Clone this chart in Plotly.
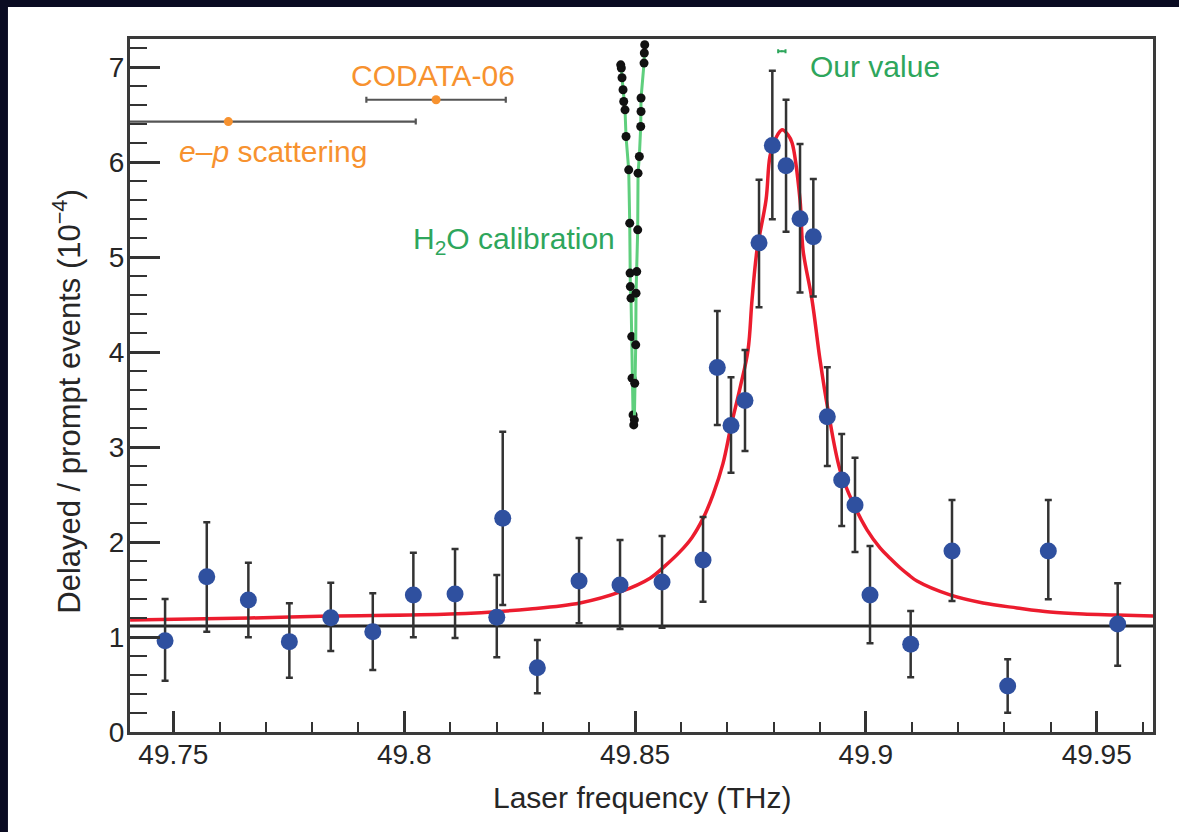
import plotly.graph_objects as go

# ---------------- data ----------------
freq = [49.74820, 49.75723, 49.76624, 49.77512, 49.78409, 49.79319, 49.80198, 49.81101,
        49.82005, 49.82134, 49.82884, 49.83787, 49.84675, 49.85585, 49.86473, 49.86782,
        49.87079, 49.87382, 49.87686, 49.87974, 49.88271, 49.88574, 49.88862, 49.89165,
        49.89477, 49.89765, 49.90090, 49.90971, 49.91866, 49.93072, 49.93952, 49.95455]
ratio = [0.962, 1.636, 1.391, 0.952, 1.204, 1.057, 1.444, 1.454,
         1.209, 2.252, 0.678, 1.591, 1.549, 1.581, 1.812, 3.839,
         3.228, 3.491, 5.153, 6.178, 5.964, 5.406, 5.216, 3.322,
         2.655, 2.392, 1.444, 0.924, 1.907, 0.485, 1.907, 1.138]
err_hi = [1.401, 2.210, 1.784, 1.356, 1.573, 1.462, 1.889, 1.928,
          1.654, 3.164, 0.969, 2.044, 2.023, 2.065, 2.266, 4.436,
          3.738, 4.025, 5.817, 6.965, 6.660, 6.193, 5.824, 3.843,
          3.140, 2.890, 1.960, 1.275, 2.445, 0.766, 2.445, 1.567]
err_lo = [0.541, 1.057, 0.998, 0.572, 0.854, 0.653, 0.998, 0.991,
          0.787, 1.338, 0.408, 1.145, 1.085, 1.099, 1.373, 3.235,
          2.732, 2.961, 4.475, 5.400, 5.270, 4.629, 4.587, 2.803,
          2.171, 1.897, 0.935, 0.576, 1.380, 0.203, 1.398, 0.699]

fit_x = [49.74062, 49.76661, 49.78394, 49.80993, 49.82726, 49.83809, 49.84675, 49.85325,
         49.85650, 49.85975, 49.86235, 49.86473, 49.86690, 49.86906, 49.87080, 49.87275,
         49.87448, 49.87534, 49.87643, 49.87838, 49.87924, 49.88054, 49.88184, 49.88314,
         49.88401, 49.88574, 49.88639, 49.88834, 49.89007, 49.89180, 49.89440, 49.89722,
         49.90025, 49.90307, 49.90524, 49.90740, 49.90914, 49.91108, 49.91823, 49.92538,
         49.93274, 49.93989, 49.94703, 49.95440, 49.96220]
fit_y = [1.180, 1.201, 1.222, 1.243, 1.296, 1.359, 1.475, 1.620,
         1.750, 1.900, 2.050, 2.250, 2.500, 2.830, 3.224, 3.625,
         4.025, 4.552, 5.079, 5.606, 6.066, 6.259, 6.343, 6.291,
         6.207, 5.606, 5.079, 4.552, 3.920, 3.393, 2.761, 2.413,
         2.130, 1.940, 1.830, 1.730, 1.660, 1.590, 1.444, 1.359,
         1.307, 1.264, 1.243, 1.233, 1.222]

background_x = [49.70, 50.00]
background_y = [1.117, 1.117]

h2o_a_x = [49.84690, 49.84703, 49.84718, 49.84740, 49.84755, 49.84783, 49.84805, 49.84863,
           49.84885, 49.84892, 49.84898, 49.84913, 49.84928, 49.84935, 49.84957, 49.84972]
h2o_a_y = [7.028, 6.994, 6.892, 6.765, 6.642, 6.554, 6.273, 5.922,
           5.360, 4.834, 4.692, 4.570, 4.165, 3.727, 3.340, 3.235]
h2o_b_x = [49.85210, 49.85201, 49.85195, 49.85130, 49.85130, 49.85123, 49.85093, 49.85065,
           49.85058, 49.85037, 49.85022, 49.85015, 49.84993, 49.84985]
h2o_b_y = [7.239, 7.152, 7.046, 6.678, 6.536, 6.378, 6.062, 5.887,
           5.290, 4.850, 4.623, 4.078, 3.674, 3.288]

ep_x, ep_y, ep_err = [49.7619], [6.43], [0.0406]
codata_x, codata_y, codata_err = [49.8069], [6.66], [0.0151]
ours_x, ours_y, ours_err = [49.8818], [7.17], [0.0008]

x_tickvals = [49.75, 49.80, 49.85, 49.90, 49.95]
x_ticktext = ["49.75", "49.8", "49.85", "49.9", "49.95"]
y_tickvals = [0, 1, 2, 3, 4, 5, 6, 7]
y_ticktext = ["0", "1", "2", "3", "4", "5", "6", "7"]

x_range = [49.7406, 49.9622]
y_range = [0, 7.3]

# ---------------- styles ----------------
FONT = "Liberation Sans, Arial, Helvetica, sans-serif"
ORANGE = "#f7922f"
GREEN = "#2ea65c"
BLUE = "#2f509f"
RED = "#ec1c2e"
INK = "#262626"

fig = go.Figure()

# background reference line
fig.add_trace(go.Scatter(x=background_x, y=background_y, mode="lines",
                         line=dict(color=INK, width=3), hoverinfo="skip"))

# H2O calibration
for hx, hy in ((h2o_a_x, h2o_a_y), (h2o_b_x, h2o_b_y)):
    fig.add_trace(go.Scatter(x=hx, y=hy, mode="lines+markers",
                             line=dict(color="#5fcf7d", width=3),
                             marker=dict(color="#111111", size=9)))

# fit curve
fig.add_trace(go.Scatter(x=fit_x, y=fit_y, mode="lines",
                         line=dict(color=RED, width=3.5, shape="spline", smoothing=1.0)))

# data points
fig.add_trace(go.Scatter(
    x=freq, y=ratio, mode="markers",
    marker=dict(color=BLUE, size=17),
    error_y=dict(type="data", symmetric=False,
                 array=[h - v for h, v in zip(err_hi, ratio)],
                 arrayminus=[v - l for v, l in zip(ratio, err_lo)],
                 color="#333333", thickness=2.5, width=3.5)))

# e-p scattering and CODATA
for cx, cy, ce in ((ep_x, ep_y, ep_err), (codata_x, codata_y, codata_err)):
    fig.add_trace(go.Scatter(x=cx, y=cy, mode="markers",
                             marker=dict(color=ORANGE, size=9),
                             error_x=dict(type="data", array=ce, color="#555555",
                                          thickness=2.2, width=3)))

# our value
fig.add_trace(go.Scatter(x=ours_x, y=ours_y, mode="markers",
                         marker=dict(color=GREEN, size=2),
                         error_x=dict(type="data", array=ours_err, color=GREEN,
                                      thickness=2, width=2)))

ann = [
    dict(x=49.8062, y=6.92, text="CODATA-06", xanchor="center", yanchor="middle",
         font=dict(color=ORANGE, size=30)),
    dict(x=49.7508, y=6.11, text="<i>e</i>–<i>p</i> scattering", xanchor="left", yanchor="middle",
         font=dict(color=ORANGE, size=30)),
    dict(x=49.8462, y=5.18, text="H<sub>2</sub>O calibration", xanchor="right", yanchor="middle",
         font=dict(color=GREEN, size=30)),
    dict(x=49.8874, y=7.01, text="Our value", xanchor="left", yanchor="middle",
         font=dict(color=GREEN, size=30)),
    dict(x=-0.0616, y=0.478, xref="paper", yref="paper", textangle=-90,
         text="Delayed / prompt events (10<sup>−4</sup>)", xanchor="center", yanchor="middle",
         font=dict(color=INK, size=31)),
    dict(x=0.5, y=-0.094, xref="paper", yref="paper",
         text="Laser frequency (THz)", xanchor="center", yanchor="middle",
         font=dict(color=INK, size=30)),
]
for a in ann:
    a.setdefault("showarrow", False)
    a.setdefault("xref", "x")
    a.setdefault("yref", "y")
    fig.add_annotation(**a)

# white panel over dark frame
fig.add_shape(type="rect", xref="paper", yref="paper",
              x0=-0.1193, x1=1.06, y0=-0.2, y1=1.0462,
              fillcolor="white", line=dict(width=0), layer="below")

fig.update_layout(
    width=1179, height=832,
    margin=dict(l=130, r=26, t=39, b=100),
    paper_bgcolor="#0a0b22", plot_bgcolor="white",
    showlegend=False,
    font=dict(family=FONT, color=INK),
)
fig.update_xaxes(range=x_range, showgrid=False, zeroline=False,
                 showline=True, linecolor="#3a3a3a", linewidth=3, mirror=True,
                 ticks="inside", ticklen=21, tickwidth=2.5, tickcolor="#333333",
                 tickmode="array", tickvals=x_tickvals, ticktext=x_ticktext,
                 tickfont=dict(size=28, color=INK), ticklabelstandoff=-5,
                 minor=dict(ticks="inside", ticklen=10, tickwidth=2, tickcolor="#333333",
                            dtick=0.01, tick0=49.75, showgrid=False))
fig.update_yaxes(range=y_range, showgrid=False, zeroline=False,
                 showline=True, linecolor="#3a3a3a", linewidth=3, mirror=True,
                 ticks="inside", ticklen=30, tickwidth=2.5, tickcolor="#333333",
                 tickmode="array", tickvals=y_tickvals, ticktext=y_ticktext,
                 tickfont=dict(size=28, color=INK), ticklabelstandoff=-3,
                 minor=dict(ticks="inside", ticklen=17, tickwidth=2, tickcolor="#333333",
                            dtick=0.2, tick0=0, showgrid=False))

fig.write_html("out.html")
